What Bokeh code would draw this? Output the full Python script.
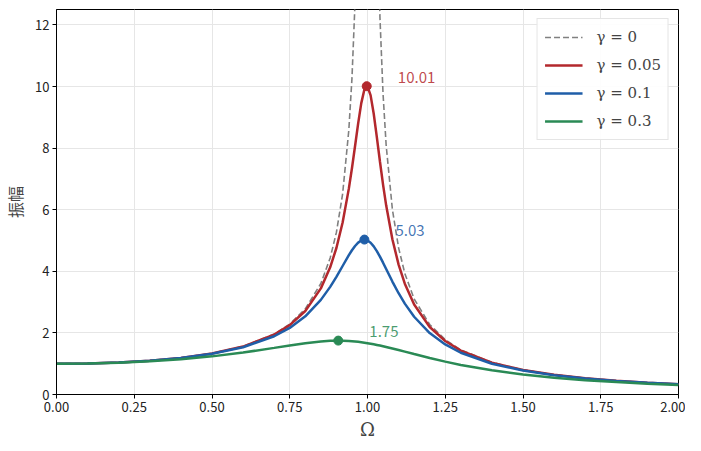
from bokeh.plotting import figure
from bokeh.models import ColumnDataSource, FixedTicker, NumeralTickFormatter, Legend, LegendItem, Range1d
from bokeh.core.properties import value
from bokeh.embed import file_html
from bokeh.resources import INLINE

omega = [0.0, 0.1, 0.2, 0.3, 0.4, 0.5, 0.6, 0.7, 0.75, 0.8, 0.85, 0.88, 0.9, 0.92, 0.94, 0.95,
         0.96, 0.97, 0.98, 0.99, 1.00, 1.01, 1.02, 1.03, 1.04, 1.05, 1.06, 1.08, 1.10, 1.12,
         1.15, 1.2, 1.25, 1.3, 1.4, 1.5, 1.6, 1.7, 1.8, 1.9, 2.0]

amp_g0 = [1.0, 1.0101, 1.0417, 1.0989, 1.1905, 1.3333, 1.5625, 1.9608, 2.2857, 2.7778, 3.6036,
          4.4326, 5.2632, 6.5104, 8.5911, 10.256, 12.755, 16.92, 25.25, 50.25, float("nan"),
          49.75, 24.75, 16.42, 12.25, 9.7561, 8.0906, 6.0096, 4.7619, 3.9308, 3.1008, 2.2727,
          1.7778, 1.4493, 1.0417, 0.8, 0.641, 0.5291, 0.4464, 0.3831, 0.3333]

amp_g005 = [1.0, 1.0101, 1.0414, 1.0983, 1.1891, 1.3304, 1.5557, 1.9426, 2.2529, 2.7116, 3.4456,
            4.1296, 4.7565, 5.5852, 6.6837, 7.346, 8.068, 8.8037, 9.4609, 9.903, 10.0, 9.7106,
            9.115, 8.357, 7.5648, 6.8149, 6.1414, 5.0409, 4.2182, 3.5976, 2.9206, 2.1926,
            1.7354, 1.4242, 1.0308, 0.7943, 0.6377, 0.527, 0.445, 0.3821, 0.3326]

amp_g01 = [1.0, 1.0099, 1.0408, 1.0965, 1.1851, 1.3216, 1.5357, 1.8908, 2.1622, 2.5384, 3.0728,
           3.4949, 3.8208, 4.1721, 4.5225, 4.6826, 4.8218, 4.9309, 5.001, 5.0252, 5.0, 4.9261,
           4.8086, 4.6552, 4.4756, 4.2794, 4.075, 3.6676, 3.288, 2.9502, 2.5245, 1.9952,
           1.6246, 1.3562, 1.0, 0.7779, 0.6279, 0.5207, 0.4408, 0.3791, 0.3304]

amp_g03 = [1.0, 1.0083, 1.0336, 1.078, 1.1447, 1.238, 1.3618, 1.5136, 1.5933, 1.6667, 1.7223,
           1.7416, 1.7469, 1.7453, 1.7365, 1.7293, 1.7203, 1.7094, 1.6968, 1.6826, 1.6667,
           1.6493, 1.6304, 1.6103, 1.589, 1.5667, 1.5434, 1.4947, 1.4438, 1.3917, 1.3129,
           1.1851, 1.0667, 0.9603, 0.7839, 0.6492, 0.5459, 0.4656, 0.4021, 0.3511, 0.3095]

peak_omega = [0.9975, 0.99, 0.906]
peak_amp = [10.01, 5.03, 1.75]
peak_labels = ["10.01", "5.03", "1.75"]

legend_labels = ["γ = 0", "γ = 0.05", "γ = 0.1", "γ = 0.3"]
x_ticks = [0, 0.25, 0.5, 0.75, 1.0, 1.25, 1.5, 1.75, 2.0]
y_ticks = [0, 2, 4, 6, 8, 10, 12]

colors = ["#b3282d", "#1f5ea8", "#2a8a55"]

p = figure(width=685, height=442, output_backend="svg", toolbar_location=None,
           x_range=Range1d(0, 2), y_range=Range1d(0, 12.5),
           min_border_left=50, min_border_right=7, min_border_top=9, min_border_bottom=40)

p.outline_line_color = "black"
p.outline_line_width = 1
p.background_fill_color = "white"
p.border_fill_color = "white"

p.xgrid.grid_line_color = "#e6e6e6"
p.ygrid.grid_line_color = "#e6e6e6"

p.xaxis.ticker = FixedTicker(ticks=x_ticks)
p.yaxis.ticker = FixedTicker(ticks=y_ticks)
p.xaxis.formatter = NumeralTickFormatter(format="0.00")
for ax in [p.xaxis, p.yaxis]:
    ax.major_tick_in = 0
    ax.major_tick_out = 4
    ax.minor_tick_line_color = None
    ax.axis_line_color = "black"
    ax.major_label_text_font = "Noto Sans CJK SC"
    ax.major_label_text_font_size = "13px"
    ax.major_label_text_color = "#222222"
    ax.major_label_standoff = 3

p.xaxis.axis_label = "Ω"
p.xaxis.axis_label_text_font = "DejaVu Serif"
p.xaxis.axis_label_text_font_style = "normal"
p.xaxis.axis_label_text_font_size = "18px"
p.xaxis.axis_label_standoff = 4

p.yaxis.axis_label = "振幅"
p.yaxis.axis_label_text_font = "Noto Sans CJK SC"
p.yaxis.axis_label_text_font_style = "normal"
p.yaxis.axis_label_text_font_size = "16px"
p.yaxis.axis_label_standoff = 5

r0 = p.line(omega, amp_g0, line_color="#808080", line_width=1.6, line_dash="6 3")
r1 = p.line(omega, amp_g005, line_color=colors[0], line_width=2.5)
r2 = p.line(omega, amp_g01, line_color=colors[1], line_width=2.5)
r3 = p.line(omega, amp_g03, line_color=colors[2], line_width=2.5)

src = ColumnDataSource(dict(
    x=peak_omega, y=peak_amp, label=peak_labels, color=colors,
    tx=[w + 0.1 for w in peak_omega], ty=[a + 0.28 for a in peak_amp],
))
p.scatter("x", "y", source=src, size=9, fill_color="color", line_color="color")
p.text("tx", "ty", text="label", source=src, text_color="color", text_alpha=0.85,
       text_font=value("Noto Sans CJK SC"), text_font_size="15px", text_baseline="middle")

legend = Legend(items=[LegendItem(label=l, renderers=[r]) for l, r in zip(legend_labels, [r0, r1, r2, r3])],
                location="top_right")
legend.label_text_font = "DejaVu Serif"
legend.label_text_font_style = "normal"
legend.label_text_font_size = "15px"
legend.glyph_width = 38
legend.glyph_height = 22
legend.label_standoff = 14
legend.spacing = 6
legend.padding = 7
legend.margin = 9
legend.border_line_color = "#cccccc"
legend.border_line_width = 1
legend.background_fill_alpha = 0.9
p.add_layout(legend)

open("out.html", "w").write(file_html(p, INLINE))
